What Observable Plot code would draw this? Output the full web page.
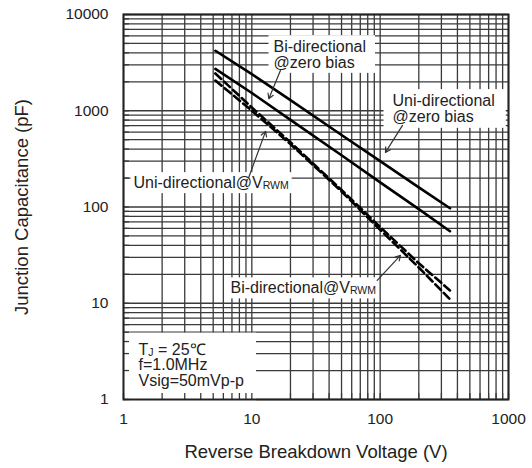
<!DOCTYPE html>
<html>
<head>
<meta charset="utf-8">
<script src="https://cdn.jsdelivr.net/npm/d3@7"></script>
<script src="https://cdn.jsdelivr.net/npm/@observablehq/plot@0.6"></script>
<style>
  body { margin: 0; background: #fff; }
  #chart svg { display: block; }
</style>
</head>
<body>
<div id="chart"></div>
<script>
// ---- data ----
const voltages      = [5.2, 10, 20, 50, 100, 200, 350];          // V
const uniZeroBias   = [4200, 2400, 1290, 560, 300, 160, 97];      // pF
const biZeroBias    = [2720, 1530, 805, 345, 180, 95, 56];        // pF
const uniVrwm       = [2440, 1080, 470, 150, 62, 26, 13.6];       // pF
const biVrwm        = [2060, 1000, 450, 145, 58, 23.5, 11];       // pF

const xTickLabels = [1, 10, 100, 1000];
const yTickLabels = [1, 10, 100, 1000, 10000];

// annotation texts and anchors (data units)
const annoText = ["Bi-directional\n@zero bias", "Uni-directional\n@zero bias",
                  "Uni-directional@V_RWM", "Bi-directional@V_RWM",
                  "T_J = 25℃\nf=1.0MHz\nVsig=50mVp-p"];
const annoV = [14.75, 124.8, 1.196, 6.82, 1.309];
const annoC = [3796, 1044, 177, 14.28, 2.265];

// leader arrows (data units)
const arrowFromV = [16.7, 149.3, 9.47, 94.8];
const arrowFromC = [2621, 704, 204, 17.3];
const arrowToV   = [13.56, 110, 12.8, 144];
const arrowToC   = [1332, 369, 610, 31.4];

// ---- tables built from the arrays ----
const curves = [
  {name: "Uni-directional @zero bias", values: uniZeroBias, dashed: false},
  {name: "Bi-directional @zero bias",  values: biZeroBias,  dashed: false},
  {name: "Uni-directional @VRWM",      values: uniVrwm,     dashed: true},
  {name: "Bi-directional @VRWM",       values: biVrwm,      dashed: true}
];
const rows = curves.flatMap(c => voltages.map((v, i) => ({series: c.name, V: v, C: c.values[i], dashed: c.dashed})));
const solidRows = rows.filter(r => !r.dashed);
const dashedRows = rows.filter(r => r.dashed);

const decadeGrid = ticks => ticks.slice(0, -1).flatMap(d => d3.range(1, 10).map(k => k * d)).concat([ticks[ticks.length - 1]]);
const xGrid = decadeGrid(xTickLabels);
const yGrid = decadeGrid(yTickLabels);

const annos = annoText.map((t, i) => ({text: t, V: annoV[i], C: annoC[i]}));
const arrows = arrowFromV.map((v, i) => ({x1: v, y1: arrowFromC[i], x2: arrowToV[i], y2: arrowToC[i]}));

const ink = "#222";
const gridInk = "#3a3a3a";

const chart = Plot.plot({
  width: 532,
  height: 468,
  marginLeft: 123,
  marginRight: 24,
  marginTop: 14,
  marginBottom: 69,
  style: {fontFamily: "'Liberation Sans', Arial, sans-serif", fontSize: "16px", color: ink, background: "#fff", overflow: "visible"},
  x: {type: "log", domain: [1, 1000]},
  y: {type: "log", domain: [1, 10000]},
  marks: [
    Plot.ruleX(xGrid, {x: d => d, stroke: gridInk, strokeWidth: 1.3}),
    Plot.ruleY(yGrid, {y: d => d, stroke: gridInk, strokeWidth: 1.3}),
    Plot.line(solidRows, {x: "V", y: "C", z: "series", stroke: "#000", strokeWidth: 2.6}),
    Plot.line(dashedRows, {x: "V", y: "C", z: "series", stroke: "#000", strokeWidth: 2.6, strokeDasharray: "8,4"}),
    Plot.text(annos, {x: "V", y: "C", text: "text", textAnchor: "start", lineAnchor: "middle", lineHeight: 0.98, fontSize: 16, fill: ink}),
    Plot.arrow(arrows, {x1: "x1", y1: "y1", x2: "x2", y2: "y2", stroke: "#333", strokeWidth: 1.2, headLength: 7}),
    Plot.tickX(xGrid, {x: d => d, stroke: gridInk, strokeWidth: 1.3, insetTop: 379}),
    Plot.tickY(yGrid, {y: d => d, stroke: gridInk, strokeWidth: 1.3, insetRight: 379}),
    Plot.axisX(xTickLabels, {tickSize: 0, tickPadding: 13, fontSize: 15.5, tickFormat: d => String(d), label: null, fill: ink}),
    Plot.axisY(yTickLabels, {tickSize: 0, tickPadding: 15, fontSize: 15.5, tickFormat: d => String(d), label: null, fill: ink}),
    Plot.text(["Reverse Breakdown Voltage (V)"], {frameAnchor: "bottom", dy: 58, fontSize: 18.5, fill: ink}),
    Plot.text(["Junction Capacitance (pF)"], {frameAnchor: "left", dx: -101, rotate: -90, textAnchor: "middle", fontSize: 18.5, fill: ink}),
    Plot.frame({stroke: "#222", strokeWidth: 2})
  ]
});

document.getElementById("chart").appendChild(chart);

// subscripts (V_RWM, T_J)
const svgNS = "http://www.w3.org/2000/svg";
function subscript(el) {
  const s = el.textContent;
  const m = s.match(/^(.*?)_([A-Z]+)(.*)$/);
  if (!m) return;
  el.textContent = "";
  el.appendChild(document.createTextNode(m[1]));
  const sub = document.createElementNS(svgNS, "tspan");
  sub.setAttribute("font-size", "10.5");
  sub.setAttribute("dy", "1");
  sub.textContent = m[2];
  el.appendChild(sub);
  if (m[3]) {
    const rest = document.createElementNS(svgNS, "tspan");
    rest.setAttribute("dy", "-1");
    rest.textContent = m[3];
    el.appendChild(rest);
  }
}
const annoSet = new Map(annoText.map((t, i) => [t.replace(/\n/g, ""), i]));
// padding [top, right, bottom, left] for the white label boxes
const pads = [[3, 9, 2, 5], [3, 11, 3, 9], [2, 3, 2, 3], [2, 3, 2, 2], [8, 12, 12, 16]];
chart.querySelectorAll("text").forEach(el => {
  const key = el.textContent;
  if (!annoSet.has(key)) return;
  const idx = annoSet.get(key);
  const parts = el.querySelectorAll("tspan");
  if (parts.length) parts.forEach(subscript); else subscript(el);
  const bb = el.getBBox();
  const [pt, pr, pb, pl] = pads[idx];
  const r = document.createElementNS(svgNS, "rect");
  r.setAttribute("x", bb.x - pl);
  r.setAttribute("y", bb.y - pt);
  r.setAttribute("width", bb.width + pl + pr);
  r.setAttribute("height", bb.height + pt + pb);
  r.setAttribute("fill", "#fff");
  const tr = el.getAttribute("transform");
  if (tr) r.setAttribute("transform", tr);
  el.parentNode.insertBefore(r, el);
});
</script>
</body>
</html>
